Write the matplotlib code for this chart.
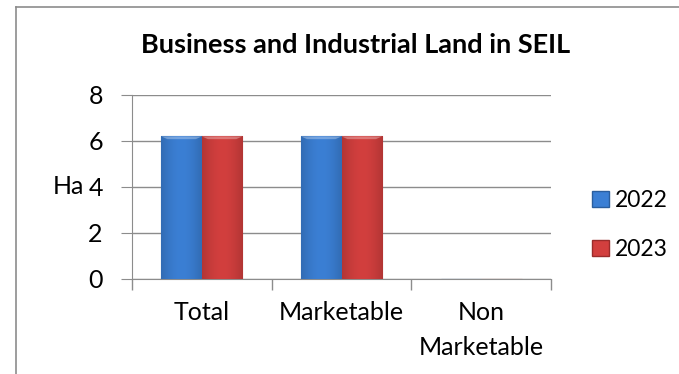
import matplotlib.pyplot as plt
from matplotlib.lines import Line2D
from matplotlib.patches import Patch
import numpy as np

categories = ['Total', 'Marketable', 'Non\nMarketable']
years = ['2022', '2023']
vals_2022 = [6.2, 6.2, 0]
vals_2023 = [6.2, 6.2, 0]
colors = ['#3b7fd4', '#d23f3e']
edges = ['#2a5e9e', '#9a2c2b']

plt.rcParams['font.family'] = ['Lato', 'DejaVu Sans']

fig = plt.figure(figsize=(6.79, 3.74), dpi=100)
ax = fig.add_axes([132/679, 1-279/374, (551-132)/679, (279-95)/374])

x = np.arange(len(categories))
w = 0.29
b1 = ax.bar(x - w/2, vals_2022, w, color=colors[0], edgecolor=edges[0], linewidth=0.8, zorder=3)
b2 = ax.bar(x + w/2, vals_2023, w, color=colors[1], edgecolor=edges[1], linewidth=0.8, zorder=3)

# bevel-ish shading on each bar
for bars, c in zip([b1, b2], colors):
    for r in bars:
        if r.get_height() <= 0:
            continue
        x0, y0 = r.get_x(), r.get_y()
        bw, bh = r.get_width(), r.get_height()
        grad = np.linspace(0, 1, 64)
        shade = 0.85 + 0.15 * np.sin(grad * np.pi)
        img = np.ones((2, 64, 4))
        base = np.array(plt.matplotlib.colors.to_rgb(c))
        img[:, :, :3] = base[None, None, :] * shade[None, :, None]
        im = ax.imshow(img, extent=[x0, x0 + bw, y0, y0 + bh], aspect='auto', zorder=3.5)
        im.set_clip_path(r)
        ax.fill([x0, x0 + bw, x0 + bw*0.85, x0 + bw*0.15], [y0 + bh, y0 + bh, y0 + bh - 0.12, y0 + bh - 0.12],
                color='white', alpha=0.3, zorder=4, lw=0)

ax.set_xlim(-0.5, 2.5)
ax.set_ylim(0, 8)
ax.set_yticks([0, 2, 4, 6, 8])
ax.set_xticks([0, 1, 2])
ax.set_xticklabels(categories, fontsize=18, linespacing=1.6)
ax.tick_params(axis='y', labelsize=18, length=8, color='#8c8c8c', pad=13)
ax.tick_params(axis='x', length=0, pad=16)
ax.set_xticks([-0.5, 0.5, 1.5, 2.5], minor=True)
ax.tick_params(axis='x', which='minor', length=8, color='#8c8c8c', width=1)
ax.grid(axis='y', color='#8c8c8c', linewidth=1, zorder=0)
for s in ['top', 'right']:
    ax.spines[s].set_visible(False)
ax.spines['left'].set_color('#8c8c8c')
ax.spines['bottom'].set_color('#8c8c8c')
ax.set_axisbelow(True)

ax.set_ylabel('Ha', fontsize=18, rotation=0, labelpad=14, va='center')

fig.text(356/679, 1-45/374, 'Business and Industrial Land in SEIL', ha='center', va='center',
         fontsize=19.5, fontweight='bold')

handles = [Patch(facecolor=colors[0], edgecolor=edges[0]), Patch(facecolor=colors[1], edgecolor=edges[1])]
fig.legend(handles, years, loc='center left', bbox_to_anchor=(592/679, 1-225/374), frameon=False,
           borderpad=0, borderaxespad=0, fontsize=16.5, handlelength=0.75, handleheight=0.75,
           handletextpad=0.25, labelspacing=1.23)

# outer chart frame
fig.add_artist(Line2D([16/679, 16/679], [0, 1-7/374], color='#8c8c8c', lw=1.2))
fig.add_artist(Line2D([16/679, 1], [1-7/374, 1-7/374], color='#8c8c8c', lw=1.2))

fig.savefig('out.png', dpi=100)
